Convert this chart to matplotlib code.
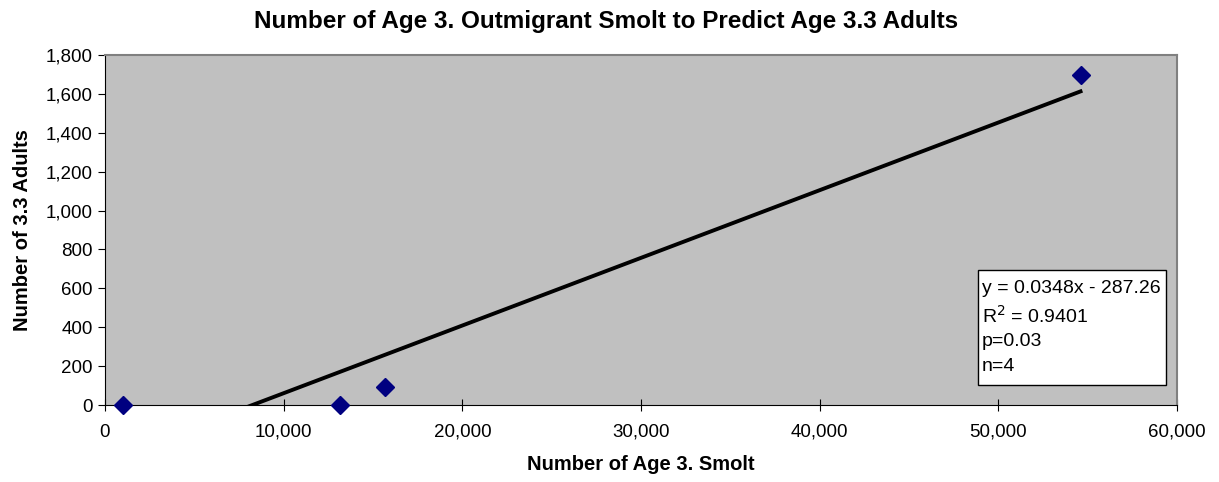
import numpy as np
import matplotlib
matplotlib.use("Agg")
import matplotlib.pyplot as plt
from matplotlib.ticker import FuncFormatter
from matplotlib.patches import Rectangle

plt.rcParams['font.family'] = ['Liberation Sans', 'DejaVu Sans']

# smolt counts and adult returns
smolt = [1000, 13150, 15650, 54600]
adults = [0, 0, 95, 1695]
slope = 0.0348
intercept = -287.26
fit_text = ["y = 0.0348x - 287.26", "R$^2$ = 0.9401", "p=0.03", "n=4"]

fig = plt.figure(figsize=(12.19, 4.82), dpi=100)
ax = fig.add_axes([105/1219, 1 - 405/482, 1072/1219, 350/482])
ax.set_facecolor('#C0C0C0')

# trendline over the data range
xl = np.array([min(smolt), max(smolt)])
ax.plot(xl, slope * xl + intercept, color='black', lw=2.8, zorder=2)
ax.plot(smolt, adults, linestyle='none', marker='D', ms=8.8, color='#000080', zorder=3, clip_on=False)

ax.set_xlim(0, 60000)
ax.set_ylim(0, 1800)
ax.set_xticks(np.arange(0, 60001, 10000))
ax.set_yticks(np.arange(0, 1801, 200))
fmt = FuncFormatter(lambda v, p: f"{int(v):,}")
ax.xaxis.set_major_formatter(fmt)
ax.yaxis.set_major_formatter(fmt)
ax.tick_params(axis='x', direction='inout', length=9, labelsize=13.5, pad=9)
ax.tick_params(axis='y', direction='out', length=5, labelsize=13.5, pad=4)

for s in ['top', 'right']:
    ax.spines[s].set_color('#808080')
    ax.spines[s].set_linewidth(1.5)
for s in ['left', 'bottom']:
    ax.spines[s].set_color('black')

fig.text(0.497, 0.956, 'Number of Age 3. Outmigrant Smolt to Predict Age 3.3 Adults',
         fontsize=17.5, fontweight='bold', ha='center', va='center')
ax.set_xlabel('Number of Age 3. Smolt', fontsize=14.5, fontweight='bold', labelpad=10)
ax.set_ylabel('Number of 3.3 Adults', fontsize=14.5, fontweight='bold', labelpad=10)

# regression stats box
ax.add_patch(Rectangle((0.814, 0.057), 0.176, 0.329, transform=ax.transAxes,
                       facecolor='white', edgecolor='black', lw=1, zorder=4))
for txt, yy in zip(fit_text, [0.334, 0.254, 0.18, 0.111]):
    ax.text(0.818, yy, txt, transform=ax.transAxes, fontsize=14, va='center', ha='left', zorder=5)

fig.savefig('out.png', dpi=100)
